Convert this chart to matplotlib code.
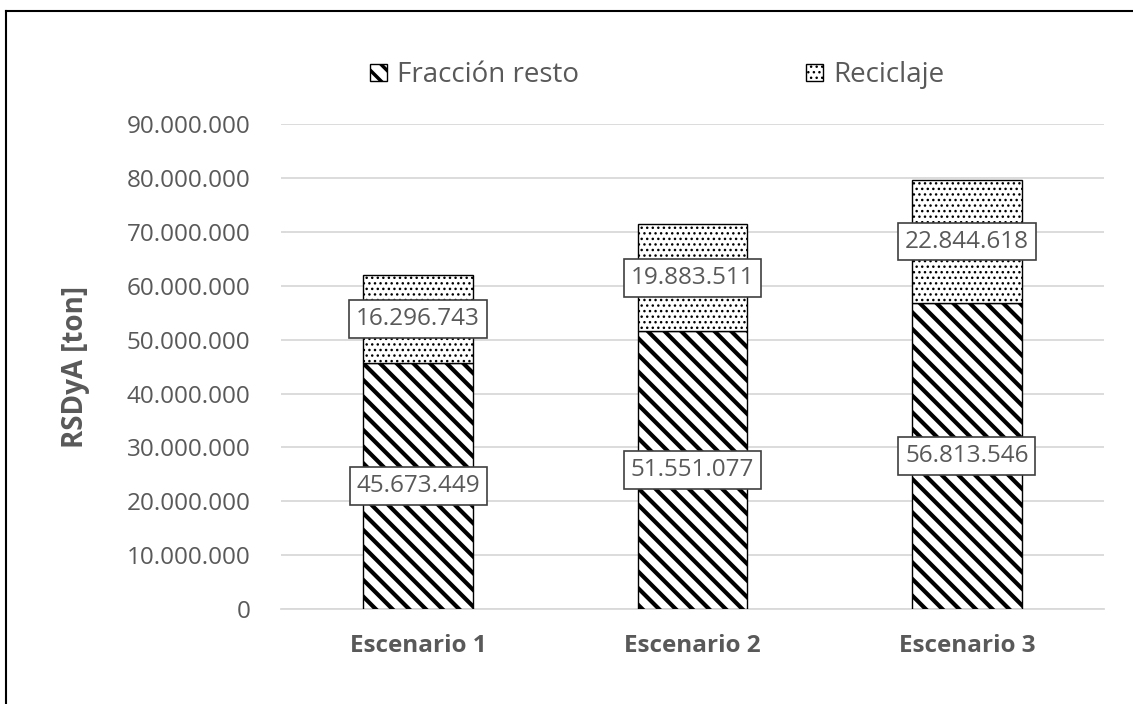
import matplotlib
matplotlib.use("Agg")
import matplotlib.pyplot as plt
import numpy as np
from matplotlib.lines import Line2D
from matplotlib.ticker import FuncFormatter

# Datos del gráfico
escenarios = ["Escenario 1", "Escenario 2", "Escenario 3"]
fraccion_resto = [45673449, 51551077, 56813546]
reciclaje = [16296743, 19883511, 22844618]
series = ["Fracción resto", "Reciclaje"]

gris = "#595959"
plt.rcParams['font.family'] = ['Open Sans', 'DejaVu Sans']


def miles(v):
    # separador de miles con punto
    return f"{int(round(v)):,}".replace(",", ".")


fig = plt.figure(figsize=(11.33, 7.04), dpi=100)
ax = fig.add_axes([0.248, 0.1349, 0.7264, 0.6885])

x = np.arange(len(escenarios))
ancho = 0.40

with plt.rc_context({'hatch.linewidth': 3.0}):
    b1 = ax.bar(x, fraccion_resto, ancho, color="white", edgecolor="black",
                hatch="\\\\", linewidth=1.0, label=series[0], zorder=3)
with plt.rc_context({'hatch.linewidth': 1.0}):
    b2 = ax.bar(x, reciclaje, ancho, bottom=fraccion_resto, color="white",
                edgecolor="black", hatch="...", linewidth=1.0, label=series[1], zorder=3)

# Etiquetas de datos en el centro de cada segmento
for i in range(len(escenarios)):
    for val, base in ((fraccion_resto[i], 0), (reciclaje[i], fraccion_resto[i])):
        ax.text(x[i], base + val / 2, miles(val), ha="center", va="center",
                fontsize=17.5, color=gris, zorder=5,
                bbox=dict(boxstyle="square,pad=0.28", facecolor="white",
                          edgecolor="#404040", linewidth=1.2))

ax.set_ylim(0, 90000000)
ax.set_xlim(-0.5, 2.5)
ax.set_yticks(np.arange(0, 90000001, 10000000))
ax.yaxis.set_major_formatter(FuncFormatter(lambda v, p: miles(v)))
ax.grid(axis="y", color="#d9d9d9", linewidth=1.3, zorder=0)
ax.set_axisbelow(True)
for s in ["top", "right", "left"]:
    ax.spines[s].set_visible(False)
ax.spines["bottom"].set_color("#d9d9d9")
ax.spines["bottom"].set_linewidth(1.3)
ax.tick_params(axis="both", length=0, labelsize=17.5, labelcolor=gris)
ax.tick_params(axis="y", pad=22)
ax.tick_params(axis="x", pad=18)
ax.set_xticks(x)
ax.set_xticklabels(escenarios, fontweight="bold")

ax.set_ylabel("RSDyA [ton]", fontsize=20, fontweight="bold", color=gris, labelpad=26)

with plt.rc_context({'hatch.linewidth': 2.5}):
    leg = ax.legend(loc="center", bbox_to_anchor=(0.457, 1.101), ncol=2,
                    frameon=False, fontsize=20, handlelength=0.6, handleheight=0.6,
                    handletextpad=0.35, columnspacing=8.2)
for t in leg.get_texts():
    t.set_color(gris)
# puntos del segundo marcador con trazo fino
try:
    leg.legend_handles[1].set_hatch_linewidth(1.0)
except AttributeError:
    pass

# Marco exterior (solo lados izquierdo y superior visibles)
fig.add_artist(Line2D([6 / 1133, 6 / 1133], [0, 1 - 11 / 704], transform=fig.transFigure,
                      color="black", linewidth=1.5))
fig.add_artist(Line2D([6 / 1133, 1], [1 - 11 / 704, 1 - 11 / 704], transform=fig.transFigure,
                      color="black", linewidth=1.5))

fig.savefig("out.png", dpi=100)
